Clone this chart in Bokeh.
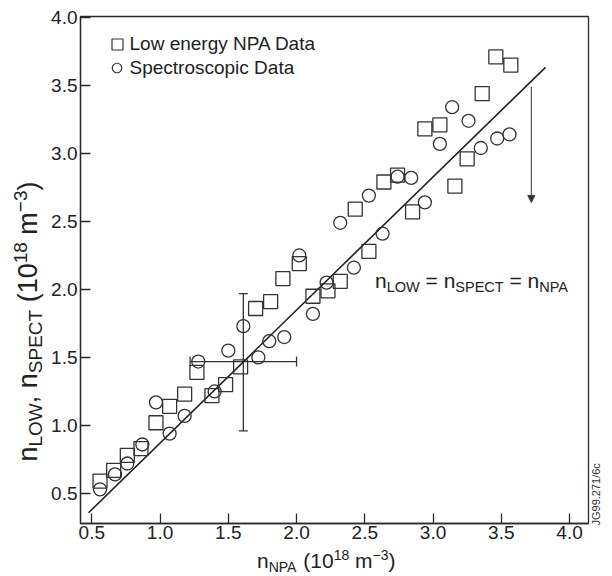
import math
from bokeh.plotting import figure
from bokeh.layouts import row, column
from bokeh.models import (Range1d, FixedTicker, NumeralTickFormatter, Label, Whisker, TeeHead,
                          Arrow, NormalHead, ColumnDataSource)
from bokeh.core.properties import value
from bokeh.embed import file_html
from bokeh.resources import INLINE

# ---------------- data ----------------
sq_x = [0.56, 0.66, 0.76, 0.86, 0.97, 1.07, 1.18, 1.27, 1.38, 1.48, 1.59, 1.70, 1.81, 1.90, 2.02,
        2.12, 2.23, 2.32, 2.43, 2.53, 2.64, 2.74, 2.85, 2.94, 3.05, 3.16, 3.25, 3.36, 3.46, 3.57]
sq_y = [0.59, 0.67, 0.78, 0.83, 1.02, 1.14, 1.23, 1.39, 1.22, 1.30, 1.43, 1.86, 1.91, 2.08, 2.19,
        1.95, 1.99, 2.06, 2.59, 2.28, 2.79, 2.84, 2.57, 3.18, 3.21, 2.76, 2.96, 3.44, 3.71, 3.65]

ci_x = [0.56, 0.67, 0.76, 0.87, 0.97, 1.07, 1.18, 1.28, 1.40, 1.50, 1.61, 1.72, 1.80, 1.91, 2.02,
        2.12, 2.22, 2.32, 2.42, 2.53, 2.63, 2.74, 2.84, 2.94, 3.05, 3.14, 3.26, 3.35, 3.47, 3.56]
ci_y = [0.53, 0.64, 0.72, 0.86, 1.17, 0.94, 1.07, 1.47, 1.25, 1.55, 1.73, 1.50, 1.62, 1.65, 2.25,
        1.82, 2.05, 2.49, 2.16, 2.69, 2.41, 2.83, 2.82, 2.64, 3.07, 3.34, 3.24, 3.04, 3.11, 3.14]

line_x = [0.476, 3.824]
line_y = [0.358, 3.633]

eb_x, eb_y = 1.61, 1.47
eb_xlo, eb_xhi = 1.22, 2.00
eb_ylo, eb_yhi = 0.96, 1.97

arrow_x = 3.72
arrow_y0, arrow_y1 = 3.49, 2.64

x_ticks = [0.5, 1.0, 1.5, 2.0, 2.5, 3.0, 3.5, 4.0]
y_ticks = [0.5, 1.0, 1.5, 2.0, 2.5, 3.0, 3.5, 4.0]

legend_labels = ["Low energy NPA Data", "Spectroscopic Data"]

# ---------------- layout constants (page pixels, page origin = top-left) ----------------
FONT = "Liberation Sans"
INK = "#2a2a2a"
TXT = "#222"
FW, FH = 508, 507               # plot frame
ML, MR, MT, MB = 30, 2, 16, 24  # borders of main figure
LW = 48                          # left strip (y title)
RW = 24                          # right strip (figure code)
MAIN_W = ML + FW + MR
MAIN_H = MT + FH + MB
BH = 576 - MAIN_H                # bottom strip (x title)
PAGE_FL = LW + ML                # frame left on page = 78
PAGE_FT = MT                     # frame top on page = 16
X0, X1 = 0.417, 4.139
Y0, Y1 = 0.279, 4.007
SX = FW / (X1 - X0)
SY = FH / (Y1 - Y0)
BASE_FIX = 0.37                  # anchor correction (em) so that text sits on the wanted baseline
ROT_FIX = 16                     # along-text correction (px) for rotated texts


def px2x(px):
    return X0 + (px - PAGE_FL) / SX


def py2y(py):
    return Y1 - (py - PAGE_FT) / SY


ARIAL = {' ': 278, '(': 333, ')': 333, ',': 278, '.': 278, '/': 278, '=': 584, '\u2212': 584,
         '0': 556, '1': 556, '2': 556, '3': 556, '4': 556, '5': 556, '6': 556, '7': 556,
         '8': 556, '9': 556, 'A': 667, 'C': 722, 'E': 667, 'L': 556, 'N': 722, 'O': 778,
         'P': 667, 'S': 667, 'T': 611, 'W': 944, 'm': 833, 'n': 556}


def tw(s, size):
    return sum(ARIAL[c] for c in s) / 1000.0 * size


def run(pieces, start):
    """Lay out text pieces along a baseline; returns (advance_pos, text, size, offset)."""
    out = []
    pos = start
    for s, size, off in pieces:
        core = s.strip(" ")
        lead = len(s) - len(s.lstrip(" "))
        trail = len(s) - len(s.rstrip(" "))
        pos += tw(" " * lead, size)
        out.append((pos, core, size, off))
        pos += tw(core, size) + tw(" " * trail, size)
    return out


MINUS = "\u2212"

# ---------------- main figure ----------------
p = figure(frame_width=FW, frame_height=FH, x_range=Range1d(X0, X1), y_range=Range1d(Y0, Y1),
           output_backend="svg", toolbar_location=None,
           min_border_left=ML, min_border_right=MR, min_border_top=MT, min_border_bottom=MB)
p.background_fill_color = "white"
p.border_fill_color = "white"
p.outline_line_color = INK
p.outline_line_width = 1.3
p.xgrid.visible = False
p.ygrid.visible = False

for ax in (p.xaxis[0], p.yaxis[0]):
    ax.major_tick_in = 10
    ax.major_tick_out = 0
    ax.minor_tick_line_color = None
    ax.axis_line_color = INK
    ax.axis_line_width = 1.3
    ax.major_tick_line_color = INK
    ax.major_tick_line_width = 1.3
    ax.major_label_text_font = FONT
    ax.major_label_text_font_size = "19px"
    ax.major_label_text_color = TXT
    ax.formatter = NumeralTickFormatter(format="0.0")
p.xaxis.major_label_standoff = 2
p.yaxis.major_label_standoff = 3
p.xaxis.ticker = FixedTicker(ticks=x_ticks)
p.yaxis.ticker = FixedTicker(ticks=y_ticks)

p.line(line_x, line_y, line_width=1.6, line_color="#222")

sq = p.scatter(sq_x, sq_y, marker="square", size=14, fill_color=None,
               line_color="#333", line_width=1.3)
ci = p.scatter(ci_x, ci_y, marker="circle", size=13, fill_color=None,
               line_color="#333", line_width=1.3)

eb = ColumnDataSource(dict(x=[eb_x], y=[eb_y], xlo=[eb_xlo], xhi=[eb_xhi],
                           ylo=[eb_ylo], yhi=[eb_yhi]))
p.add_layout(Whisker(source=eb, base="x", lower="ylo", upper="yhi", dimension="height",
                     line_color="#333", line_width=1.3,
                     upper_head=TeeHead(size=9, line_color="#333", line_width=1.3),
                     lower_head=TeeHead(size=9, line_color="#333", line_width=1.3)))
p.add_layout(Whisker(source=eb, base="y", lower="xlo", upper="xhi", dimension="width",
                     line_color="#333", line_width=1.3,
                     upper_head=TeeHead(size=10, line_color="#333", line_width=1.3),
                     lower_head=TeeHead(size=10, line_color="#333", line_width=1.3)))

p.add_layout(Arrow(x_start=arrow_x, y_start=arrow_y0, x_end=arrow_x, y_end=arrow_y1,
                   line_color="#333", line_width=1.0,
                   end=NormalHead(size=7, fill_color="#333", line_color="#333", line_width=1)))


def plabel(px, py, txt, size):
    """Horizontal text in the main figure with its baseline at page (px, py)."""
    p.add_layout(Label(x=px2x(px), y=py2y(py - BASE_FIX * size), text=txt, text_font=FONT,
                       text_font_size=f"{size}px", text_color=TXT, text_baseline="alphabetic"))


# legend (keys placed by layout, in page pixels)
KEY_POS = [(115, 44), (114.5, 67.5)]
KEY_TXT = [(127, 50.5), (127, 74)]
p.scatter([px2x(KEY_POS[0][0])], [py2y(KEY_POS[0][1])], marker="square", size=11,
          fill_color=None, line_color="#333", line_width=1.2)
p.scatter([px2x(KEY_POS[1][0])], [py2y(KEY_POS[1][1])], marker="circle", size=9.5,
          fill_color=None, line_color="#333", line_width=1.2)
for (tx, ty), lab in zip(KEY_TXT, legend_labels):
    plabel(tx, ty, lab, 19)

# line annotation
ann = [("n", 21, 0), ("LOW", 14.5, 4), (" = ", 21, 0), ("n", 21, 0), ("SPECT", 14.5, 4),
       (" = ", 21, 0), ("n", 21, 0), ("NPA", 14.5, 4)]
for pos, txt, size, off in run(ann, 372.5):
    plabel(pos, 288 + off, txt, size)


# ---------------- strips for outer texts ----------------
def strip(w, h):
    f = figure(frame_width=w, frame_height=h, x_range=Range1d(0, w), y_range=Range1d(0, h),
               output_backend="svg", toolbar_location=None, x_axis_type=None, y_axis_type=None,
               min_border=0)
    f.outline_line_color = None
    f.background_fill_color = "white"
    f.border_fill_color = "white"
    return f


def put(f, x, y, txt, size, angle=0.0, color=TXT):
    f.text(x=[x], y=[y], text=[txt], angle=angle, text_font=value(FONT),
           text_font_size=value(f"{size}px"), text_color=color,
           text_baseline="alphabetic", text_align="left")


# y title: rotated, runs upward from page y 461, baseline at page x 37
fy = strip(LW, MAIN_H)
YB, YS = 27, 19
ytitle = [("n", YB, 0), ("LOW", YS, 5), (",", YB, 0), (" n", YB, 0), ("SPECT", YS, 5),
          (" (10", YB, 0), ("18", YS, -10), (" m", YB, 0), (MINUS + "3", YS, -10),
          (")", YB, 0)]
for pos, txt, size, off in run(ytitle, 0):
    put(fy, 37 + off - BASE_FIX * size, MAIN_H - (461 - ROT_FIX - pos), txt, size,
        angle=math.pi / 2)

# figure code on the right
fr = strip(RW, MAIN_H)
put(fr, 598 - (LW + MAIN_W) - BASE_FIX * 11, MAIN_H - (525 - ROT_FIX), "JG99.271/6c", 11,
    angle=math.pi / 2, color="#333")

# x title
fx = strip(LW + MAIN_W + RW, BH)
XB, XS = 21, 14
xtitle = [("n", XB, 0), ("NPA", XS, 4.5), (" (10", XB, 0), ("18", XS, -7.5),
          (" m", XB, 0), (MINUS + "3", XS, -7.5), (")", XB, 0)]
for pos, txt, size, off in run(xtitle, 256.5):
    put(fx, pos, 576 - (567.5 + off - BASE_FIX * size), txt, size)

layout = column(row(fy, p, fr, spacing=0), fx, spacing=0)
open("out.html", "w").write(file_html(layout, INLINE))
